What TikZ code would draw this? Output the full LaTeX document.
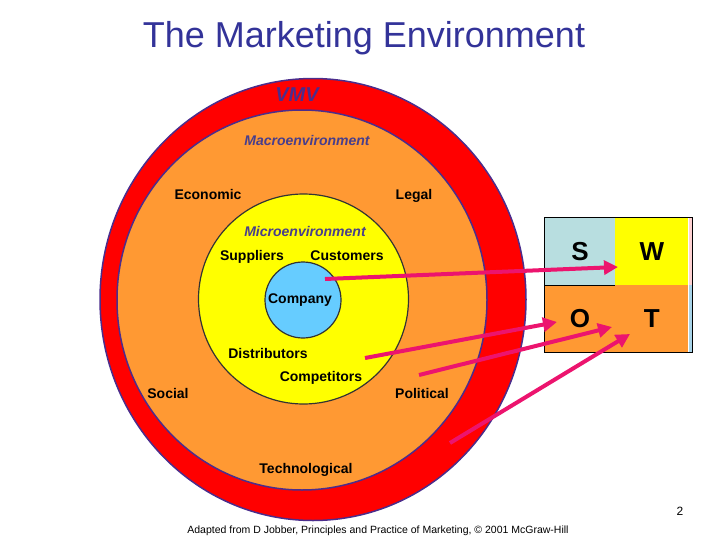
\documentclass[tikz,border=0pt]{standalone}
\usepackage{fontspec}
\setmainfont{Liberation Sans}
\usetikzlibrary{positioning,arrows.meta}
\definecolor{ringRed}{RGB}{255,0,0}
\definecolor{macroOrange}{RGB}{255,153,51}
\definecolor{microYellow}{RGB}{255,255,0}
\definecolor{companyBlue}{RGB}{102,204,255}
\definecolor{ringEdge}{RGB}{75,45,140}
\definecolor{titleBlue}{RGB}{51,51,153}
\definecolor{envSlate}{RGB}{72,62,140}
\definecolor{arrowPink}{RGB}{236,20,110}
\definecolor{swotS}{RGB}{184,222,224}
\tikzstyle{lbl}=[font=\fontsize{14}{16}\selectfont\bfseries,inner sep=0pt,anchor=base]
\tikzstyle{env}=[lbl,font=\fontsize{14}{16}\selectfont\bfseries\itshape,text=envSlate]
\tikzstyle{cell}=[minimum width=70pt,minimum height=67pt,inner sep=0pt,
  font=\fontsize{26}{28}\selectfont\bfseries]
\tikzstyle{swotarrow}=[-{Triangle[length=14pt,width=14pt]},arrowPink,line width=4pt]
\newcommand{\newLabel}[4]{\node[#3](#1) at (#4){#2};}
\newcommand{\newArrow}[2]{\draw[swotarrow] (#1) -- (#2);}
\begin{document}
\begin{tikzpicture}[x=1pt,y=-1pt,node distance=0pt]
  \useasboundingbox (0,0) rectangle (728,546);
  % rings
  \filldraw[fill=ringRed,draw=ringEdge,line width=1.5pt] (313,299.5) ellipse (213 and 221);
  \filldraw[fill=macroOrange,draw=ringEdge,line width=1.5pt] (302,300) ellipse (185 and 190);
  \filldraw[fill=microYellow,draw=black!80,line width=1.2pt] (303.5,299) circle (105);
  \filldraw[fill=companyBlue,draw=black!80,line width=1.2pt] (303,300) circle (38);

  \newLabel{title}{The Marketing Environment}{font=\fontsize{36}{40}\selectfont,text=titleBlue}{364,38}
  \newLabel{vmv}{VMV}{lbl,font=\fontsize{20}{22}\selectfont\bfseries\itshape,text=ringEdge}{297,101}
  \newLabel{macro}{Macroenvironment}{env}{307,145}
  \newLabel{micro}{Microenvironment}{env}{305,236}
  \newLabel{economic}{Economic}{lbl}{208,199}
  \newLabel{legal}{Legal}{lbl}{414,199}
  \newLabel{social}{Social}{lbl}{168,398}
  \newLabel{political}{Political}{lbl}{422,398}
  \newLabel{techno}{Technological}{lbl}{306,473}
  \newLabel{suppliers}{Suppliers}{lbl}{252,260}
  \newLabel{customers}{Customers}{lbl}{347,260}
  \newLabel{company}{Company}{lbl}{300,303}
  \newLabel{distributors}{Distributors}{lbl}{268,358}
  \newLabel{competitors}{Competitors}{lbl}{321,381}

  % swot grid
  \node[cell,fill=swotS] (S) at (580,251.5) {S};
  \node[cell,fill=microYellow,minimum width=73pt,right=of S] (W) {W};
  \node[cell,fill=macroOrange,below=of S] (O) {O};
  \node[cell,fill=macroOrange,minimum width=73pt,right=of O] (T) {T};
  \fill[pink!70] (W.north east) rectangle (W.south east -| 692,0);
  \fill[companyBlue!70!gray!60] (T.north east) rectangle (T.south east -| 692,0);
  \draw[line width=1pt] (S.south west) -- (S.south east);
  \draw[line width=1pt] (S.north west) rectangle (T.south east -| 692,0);

  \coordinate (fromCompany) at (325,279);
  \coordinate (fromDistrib) at (365,358);
  \coordinate (fromMacro) at (419,375);
  \coordinate (fromVMV) at (450,443);
  \coordinate (toW) at (618,267);
  \coordinate (toO) at (557,322);
  \coordinate (toT) at (612,327);
  \coordinate (toT2) at (630,334);
  \newArrow{fromCompany}{toW}
  \newArrow{fromDistrib}{toO}
  \newArrow{fromMacro}{toT}
  \newArrow{fromVMV}{toT2}

  \newLabel{page}{2}{font=\fontsize{12}{14}\selectfont}{680,511}
  \newLabel{source}{Adapted from D Jobber, Principles and Practice of Marketing, \textcopyright{} 2001 McGraw-Hill}{font=\fontsize{10.5}{12}\selectfont}{378,531}
\end{tikzpicture}
\end{document}
